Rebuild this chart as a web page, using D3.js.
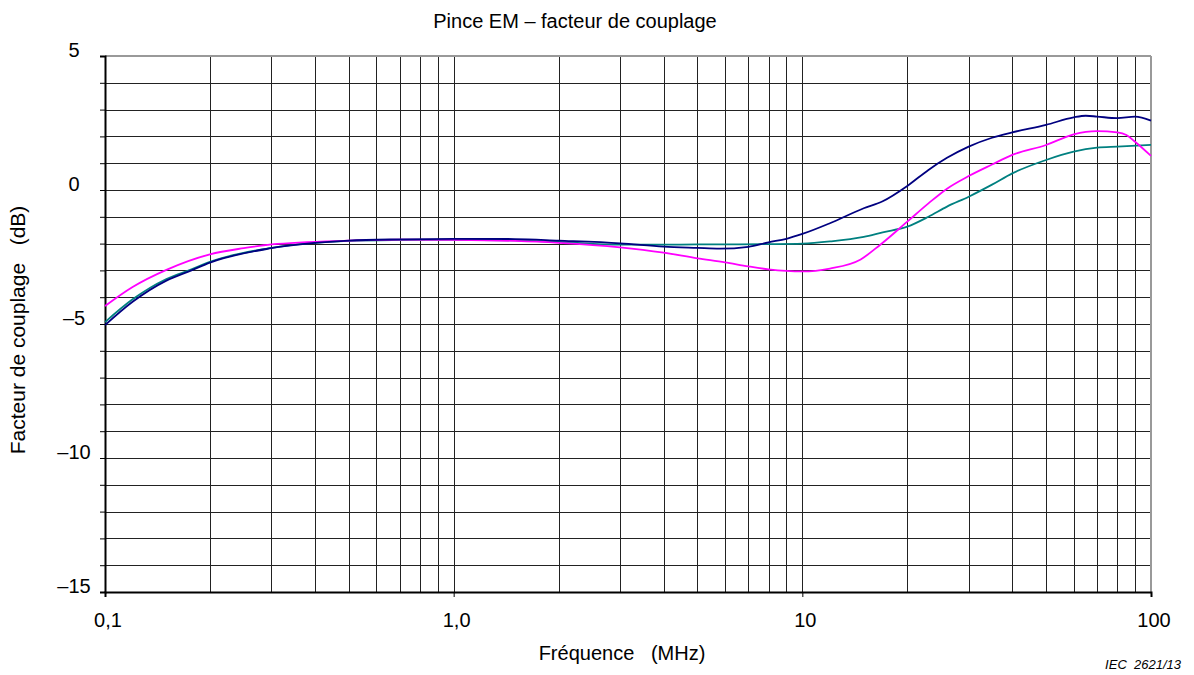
<!DOCTYPE html>
<html><head><meta charset="utf-8">
<script src="https://cdn.jsdelivr.net/npm/d3@7"></script>
<style>body{margin:0;background:#fff}svg{display:block}text{font-family:"Liberation Sans",Arial,sans-serif;fill:#000}</style>
</head><body><svg id="c" width="1194" height="675"></svg>
<script>
const title = "Pince EM – facteur de couplage";
const xLabel = "Fréquence   (MHz)";
const yLabel = "Facteur de couplage   (dB)";
const credit = "IEC  2621/13";
const xTickValues = [0.1, 1, 10, 100];
const xTickLabels = ["0,1", "1,0", "10", "100"];
const yTickValues = [5, 0, -5, -10, -15];
const yTickLabels = ["5", "0", "–5", "–10", "–15"];

const blueF = [0.1,0.12,0.15,0.177,0.2,0.3,0.5,0.7,1,1.5,2,3,4,5,5.8,7,8,9,10,12,15,17,20,23,26,30,35,40,50,60,65,70,80,90,100];
const blueV = [-5.04,-4.17,-3.38,-3.0,-2.71,-2.17,-1.89,-1.84,-1.82,-1.83,-1.89,-1.99,-2.11,-2.16,-2.19,-2.12,-1.95,-1.82,-1.64,-1.24,-0.68,-0.42,0.15,0.75,1.2,1.62,1.95,2.15,2.43,2.71,2.77,2.74,2.68,2.74,2.59];
const tealF = [0.1,0.12,0.15,0.177,0.2,0.3,0.5,0.7,1,1.5,2,3,4,5,6,8,10,12,15,17,20,23,26,30,35,40,50,60,70,80,100];
const tealV = [-4.93,-4.08,-3.32,-2.96,-2.68,-2.16,-1.9,-1.87,-1.86,-1.88,-1.94,-2.04,-2.04,-2.03,-2.03,-2.02,-2.0,-1.92,-1.75,-1.58,-1.37,-1.0,-0.62,-0.25,0.2,0.62,1.12,1.43,1.58,1.62,1.68];
const magF = [0.1,0.12,0.15,0.2,0.25,0.3,0.5,0.7,1,1.5,2,3,4,5,6,7,8,9,10,12,14.7,16.7,20,23,26,30,35,40,50,60,70,80,85,90,100];
const magV = [-4.33,-3.62,-2.98,-2.4,-2.17,-2.03,-1.89,-1.85,-1.86,-1.9,-1.97,-2.14,-2.34,-2.55,-2.7,-2.85,-2.96,-3.02,-3.04,-2.93,-2.59,-2.05,-1.18,-0.5,0.05,0.52,0.95,1.31,1.68,2.08,2.2,2.15,2.05,1.8,1.27];

const svg = d3.select("#c");
const L = 105, R = 1151, T = 56, B = 592;
const x = d3.scaleLog().domain([0.1, 100]).range([L, R]);
const y = d3.scaleLinear().domain([-15, 5]).range([B, T]);

// grid
const xGrid = [];
for (let d = 0.1; d < 100; d *= 10) for (let k = 1; k <= 10; k++) xGrid.push(+(d * k).toPrecision(3));
const yGrid = d3.range(-15, 6, 1);
const g = svg.append("g").attr("shape-rendering", "crispEdges");
g.selectAll(".vx").data(xGrid).join("line")
  .attr("x1", d => Math.round(x(d)) + 0.5).attr("x2", d => Math.round(x(d)) + 0.5)
  .attr("y1", T).attr("y2", B).attr("stroke", "#222").attr("stroke-width", 1);
g.selectAll(".hy").data(yGrid).join("line")
  .attr("x1", L).attr("x2", R)
  .attr("y1", d => Math.round(y(d)) + 0.5).attr("y2", d => Math.round(y(d)) + 0.5)
  .attr("stroke", "#222").attr("stroke-width", 1);
g.append("line").attr("x1", L).attr("x2", R).attr("y1", T).attr("y2", T).attr("stroke", "#999").attr("stroke-width", 2);
g.append("line").attr("x1", R).attr("x2", R).attr("y1", T).attr("y2", B).attr("stroke", "#999").attr("stroke-width", 2);

// axes
const yAxis = d3.axisLeft(y).tickValues(yGrid).tickSize(5).tickFormat("");
const ya = svg.append("g").attr("transform", `translate(${L},0)`).call(yAxis);
ya.select(".domain").attr("stroke", "#000").attr("stroke-width", 2);
ya.selectAll("line").attr("stroke", "#000");
const xAxis = d3.axisBottom(x).tickValues(xTickValues).tickSize(5).tickFormat("");
const xa = svg.append("g").attr("transform", `translate(0,${B})`).call(xAxis);
xa.select(".domain").attr("stroke", "#000").attr("stroke-width", 2);
xa.selectAll("line").attr("stroke", "#000");

// tick labels
svg.selectAll(".yl").data(yTickValues).join("text")
  .attr("x", 74).attr("y", d => y(d) + 1).attr("text-anchor", "middle")
  .attr("font-size", 20).text((d, i) => yTickLabels[i]);
svg.selectAll(".xl").data(xTickValues).join("text")
  .attr("x", d => x(d) + 3).attr("y", 627).attr("text-anchor", "middle")
  .attr("font-size", 20).text((d, i) => xTickLabels[i]);

// lines
const line = d3.line().x(d => x(d[0])).y(d => y(d[1])).curve(d3.curveMonotoneX);
const series = [
  {f: tealF, v: tealV, c: "#008080"},
  {f: magF, v: magV, c: "#ff00ff"},
  {f: blueF, v: blueV, c: "#000080"}
];
series.forEach(s => {
  svg.append("path").datum(s.f.map((f, i) => [f, s.v[i]]))
    .attr("d", line).attr("fill", "none").attr("stroke", s.c).attr("stroke-width", 1.8);
});

// texts
svg.append("text").attr("x", 575).attr("y", 28).attr("text-anchor", "middle").attr("font-size", 20).text(title);
svg.append("text").attr("x", 622).attr("y", 660).attr("text-anchor", "middle").attr("font-size", 20).text(xLabel).style("white-space", "pre");
svg.append("text").attr("transform", "translate(25,330) rotate(-90)").attr("text-anchor", "middle").attr("font-size", 21).text(yLabel).style("white-space", "pre");
svg.append("text").attr("x", 1181).attr("y", 669).attr("text-anchor", "end").attr("font-size", 13).attr("font-style", "italic").text(credit).style("white-space", "pre");
</script></body></html>
